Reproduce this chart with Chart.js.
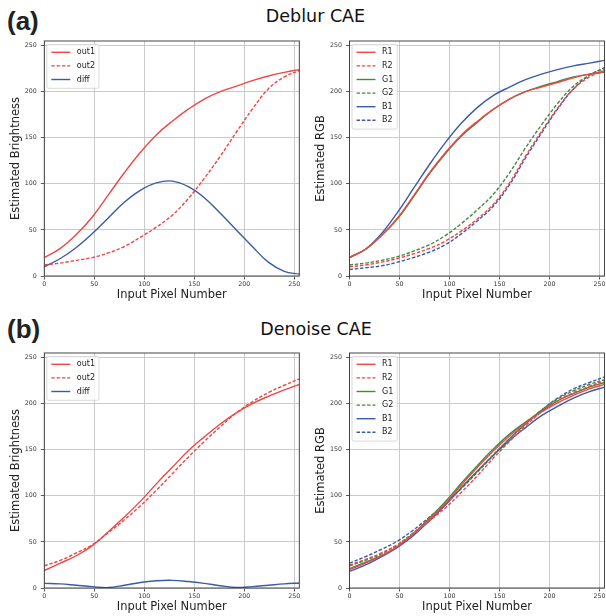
<!DOCTYPE html>
<html>
<head>
<meta charset="utf-8">
<script src="https://cdn.jsdelivr.net/npm/chart.js@4.4.1/dist/chart.umd.min.js"></script>
<style>
  body { margin: 0; width: 606px; height: 616px; overflow: hidden; background: #fff; position: relative; }
  .panel { position: absolute; width: 303px; height: 310px; }
  .etiqueta { position: absolute; font-family: "Liberation Sans", Arial, sans-serif; font-weight: bold; font-size: 26px; line-height: 26px; color: #222; }
  .titulo { position: absolute; font-family: "DejaVu Sans", sans-serif; font-size: 17.5px; line-height: 17.5px; color: #111; transform: translateX(-50%); white-space: nowrap; }
</style>
</head>
<body>
<div class="etiqueta" style="left:7px; top:8px;">(a)</div>
<div class="titulo" style="left:315.5px; top:8px;">Deblur CAE</div>
<div class="etiqueta" style="left:7px; top:316px;">(b)</div>
<div class="titulo" style="left:316px; top:321px;">Denoise CAE</div>

<div class="panel" style="left:0; top:0;"><canvas id="deblurBrillo" width="303" height="310"></canvas></div>
<div class="panel" style="left:303px; top:0;"><canvas id="deblurRGB" width="303" height="310"></canvas></div>
<div class="panel" style="left:0; top:311.7px;"><canvas id="denoiseBrillo" width="303" height="310"></canvas></div>
<div class="panel" style="left:303px; top:311.7px;"><canvas id="denoiseRGB" width="303" height="310"></canvas></div>

<script>
const pixelSteps = [0, 16, 32, 48, 64, 80, 96, 112, 128, 144, 160, 176, 192, 208, 224, 240, 255];
const xTicks = [0, 50, 100, 150, 200, 250];
const yTicks = [0, 50, 100, 150, 200, 250];

// (a) Deblur CAE
const deblurOut1 = [20, 30, 45, 64, 88, 112, 134, 153, 168, 181, 192, 200, 206, 212, 217, 221, 224];
const deblurOut2 = [12, 14, 17, 20, 25, 32, 42, 53, 66, 84, 106, 130, 156, 181, 203, 216, 223];
const deblurDiff = [10, 19, 31, 46, 63, 80, 93, 101, 103, 97, 85, 68, 50, 32, 15, 5, 2];

const deblurR1 = [20, 29, 44, 63, 87, 112, 134, 153, 168, 181, 192, 200, 205, 210, 215, 219, 222];
const deblurR2 = [10, 12, 15, 19, 24, 30, 38, 49, 62, 78, 101, 130, 157, 182, 203, 216, 223];
const deblurG1 = [20, 29, 44, 62, 86, 111, 133, 152, 167, 181, 192, 200, 206, 211, 216, 219, 221];
const deblurG2 = [12, 14, 17, 21, 27, 34, 44, 57, 72, 89, 112, 139, 164, 187, 206, 218, 225];
const deblurB1 = [20, 29, 46, 69, 95, 121, 145, 166, 183, 196, 205, 213, 219, 224, 228, 231, 234];
const deblurB2 = [7, 9, 11, 15, 20, 26, 34, 46, 60, 76, 99, 128, 155, 181, 203, 218, 226];

// (b) Denoise CAE
const denoiseOut1 = [19, 27, 35, 46, 61, 77, 94, 113, 131, 149, 164, 178, 190, 200, 208, 215, 221];
const denoiseOut2 = [24, 30, 38, 47, 60, 74, 89, 106, 124, 142, 159, 175, 190, 202, 212, 220, 227];
const denoiseDiff = [5, 4.5, 3, 1.5, 0.5, 3, 6, 7.8, 8.3, 7, 5, 2.5, 0.5, 1.5, 3, 4.5, 5.5];

const denoiseR1 = [20, 27, 35, 45, 59, 75, 92, 112, 131, 149, 165, 179, 191, 201, 209, 216, 221];
const denoiseR2 = [25, 31, 38, 47, 59, 73, 87, 104, 122, 141, 159, 176, 191, 203, 212, 219, 225];
const denoiseG1 = [21, 28, 35, 45, 59, 76, 94, 114, 133, 151, 167, 180, 192, 203, 211, 218, 223];
const denoiseG2 = [24, 30, 37, 47, 60, 75, 91, 109, 127, 145, 162, 178, 193, 205, 214, 221, 226];
const denoiseB1 = [18, 25, 34, 44, 57, 73, 90, 109, 127, 144, 160, 174, 187, 197, 206, 213, 218];
const denoiseB2 = [27, 34, 42, 51, 63, 77, 92, 108, 126, 144, 162, 178, 193, 206, 216, 223, 229];

const ROJO = '#ef4646';
const VERDE = '#3f8c3f';
const AZUL = '#3b5aa8';
const GUION = [3.5, 1.8];

// marco de los ejes y leyenda dentro del area
const marcoYLeyenda = {
  id: 'marcoYLeyenda',
  afterDraw(chart) {
    const { ctx, chartArea: a } = chart;
    ctx.save();
    ctx.strokeStyle = '#333';
    ctx.lineWidth = 0.9;
    ctx.strokeRect(a.left, a.top, a.right - a.left, a.bottom - a.top);

    const sets = chart.data.datasets;
    ctx.font = '8px "DejaVu Sans"';
    const anchoTexto = Math.max(...sets.map(s => ctx.measureText(s.label).width));
    const x0 = a.left + 2.5, y0 = a.top + 3.5;
    const w = 30 + anchoTexto + 4, h = sets.length * 13.6 + 3;
    ctx.fillStyle = 'rgba(255,255,255,0.8)';
    ctx.strokeStyle = '#d0d0d0';
    ctx.lineWidth = 0.8;
    ctx.beginPath();
    ctx.roundRect(x0, y0, w, h, 2);
    ctx.fill();
    ctx.stroke();

    sets.forEach((s, i) => {
      const y = y0 + 7.8 + i * 13.6;
      ctx.strokeStyle = s.borderColor;
      ctx.lineWidth = s.borderWidth;
      ctx.setLineDash(s.borderDash);
      ctx.beginPath();
      ctx.moveTo(x0 + 4.5, y);
      ctx.lineTo(x0 + 23.5, y);
      ctx.stroke();
      ctx.setLineDash([]);
      ctx.fillStyle = '#222';
      ctx.textBaseline = 'middle';
      ctx.fillText(s.label, x0 + 30, y);
    });
    ctx.restore();
  }
};

function crearGrafico(id, series, tituloY, ejeAncho) {
  const fuente = { family: 'DejaVu Sans', size: 6.3 };
  const rejilla = { color: '#c4c4c4', lineWidth: 0.9, tickLength: 3.5, tickColor: '#333', tickWidth: 0.8 };

  new Chart(document.getElementById(id), {
    type: 'line',
    data: {
      datasets: series.map(s => ({
        label: s.label,
        data: pixelSteps.map((x, i) => ({ x: x, y: s.data[i] })),
        borderColor: s.color,
        borderDash: s.dashed ? GUION : [],
        borderWidth: 1.4,
        pointRadius: 0,
        tension: 0.4,
        fill: false
      }))
    },
    options: {
      responsive: false,
      animation: false,
      events: [],
      layout: { padding: { top: 41, right: 303 - ejeAncho - 255, left: 0, bottom: 0 } },
      plugins: { legend: { display: false }, tooltip: { enabled: false } },
      scales: {
        x: {
          type: 'linear', min: 0, max: 255,
          afterBuildTicks: s => { s.ticks = xTicks.map(v => ({ value: v })); },
          afterFit: s => { s.height = 34; s.paddingLeft = 0; s.paddingRight = 0; },
          grid: rejilla,
          border: { display: false },
          ticks: { font: fuente, color: '#333', padding: 1, maxRotation: 0 },
          title: { display: true, text: 'Input Pixel Number', font: { family: 'DejaVu Sans', size: 11.5 }, color: '#222', padding: { top: 0, bottom: 8 } }
        },
        y: {
          type: 'linear', min: 0, max: 255,
          afterBuildTicks: s => { s.ticks = yTicks.map(v => ({ value: v })); },
          afterFit: s => { s.width = ejeAncho; s.paddingTop = 0; s.paddingBottom = 0; },
          grid: rejilla,
          border: { display: false },
          ticks: { font: fuente, color: '#333', padding: 4 },
          title: { display: true, text: tituloY, font: { family: 'DejaVu Sans', size: 11.5 }, color: '#222', padding: { top: ejeAncho - 34.9, bottom: 0 } }
        }
      }
    },
    plugins: [marcoYLeyenda]
  });
}

crearGrafico('deblurBrillo', [
  { label: 'out1', data: deblurOut1, color: ROJO, dashed: false },
  { label: 'out2', data: deblurOut2, color: ROJO, dashed: true },
  { label: 'diff', data: deblurDiff, color: AZUL, dashed: false }
], 'Estimated Brightness', 44.3);

crearGrafico('deblurRGB', [
  { label: 'R1', data: deblurR1, color: ROJO, dashed: false },
  { label: 'R2', data: deblurR2, color: ROJO, dashed: true },
  { label: 'G1', data: deblurG1, color: VERDE, dashed: false },
  { label: 'G2', data: deblurG2, color: VERDE, dashed: true },
  { label: 'B1', data: deblurB1, color: AZUL, dashed: false },
  { label: 'B2', data: deblurB2, color: AZUL, dashed: true }
], 'Estimated RGB', 46.5);

crearGrafico('denoiseBrillo', [
  { label: 'out1', data: denoiseOut1, color: ROJO, dashed: false },
  { label: 'out2', data: denoiseOut2, color: ROJO, dashed: true },
  { label: 'diff', data: denoiseDiff, color: AZUL, dashed: false }
], 'Estimated Brightness', 44.3);

crearGrafico('denoiseRGB', [
  { label: 'R1', data: denoiseR1, color: ROJO, dashed: false },
  { label: 'R2', data: denoiseR2, color: ROJO, dashed: true },
  { label: 'G1', data: denoiseG1, color: VERDE, dashed: false },
  { label: 'G2', data: denoiseG2, color: VERDE, dashed: true },
  { label: 'B1', data: denoiseB1, color: AZUL, dashed: false },
  { label: 'B2', data: denoiseB2, color: AZUL, dashed: true }
], 'Estimated RGB', 46.5);
</script>
</body>
</html>
